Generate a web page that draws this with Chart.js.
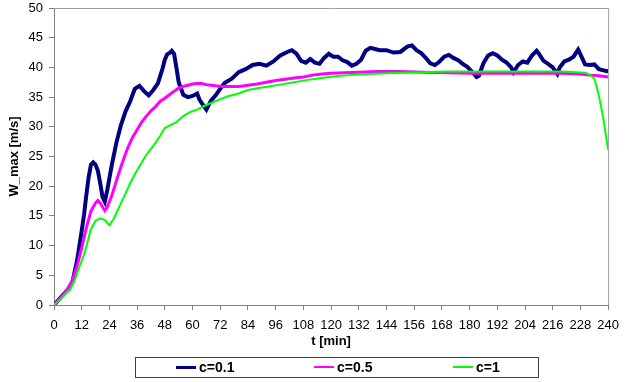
<!DOCTYPE html>
<html>
<head>
<meta charset="utf-8">
<script src="https://cdn.jsdelivr.net/npm/chart.js@4"></script>
<style>
  body { margin: 0; background: #fff; }
  #wrap { position: relative; width: 627px; height: 382px; }
  #legend { position: absolute; left: 135px; top: 357px; width: 402px; height: 19px;
            border: 1px solid #404040; font: bold 14px "Liberation Sans", Arial, sans-serif; }
  .item { position: absolute; top: 1px; line-height: 17px; white-space: nowrap; }
  .swatch { display: inline-block; width: 20px; vertical-align: middle; margin-right: 3px; margin-top: -2px; }
</style>
</head>
<body>
<div id="wrap">
  <canvas id="chart" width="627" height="382"></canvas>
  <div id="legend"></div>
</div>
<script>
// c = 0.1
const tBlue = [0,3,6,8,10,12,13,14,15,16,17,18,19,20,21,22,23,25,27,29,31,33,35,37,39,41,43,45,47,48,49,50,51,52,53,54,56,58,60,62,63,64,66,68,70,72,74,77,80,83,86,89,92,95,98,101,103,105,107,109,111,113,115,117,119,121,123,125,127,129,131,133,135,137,139,141,144,147,150,153,155,157,159,161,163,165,167,169,171,173,175,177,179,181,183,184,186,188,190,192,194,196,198,199,201,203,205,207,209,210,212,214,216,218,219,221,223,225,227,228,230,232,234,236,238,240];
const wBlue = [0,1.3,2.6,3.9,7.5,12.5,15.2,18.5,21.5,23.6,24,23.6,22.6,20.5,18.2,17.4,19.2,23.5,27.3,30.3,32.6,34.3,36.4,36.9,36,35.3,36.2,37.3,39.8,41.3,42.2,42.4,42.8,42.3,40,37.5,35.4,35,35.2,35.6,34.6,34,32.9,34.4,35.3,36.4,37.4,38.1,39.2,39.7,40.4,40.6,40.3,41,42,42.6,42.9,42.3,41.1,40.8,41.4,40.8,40.6,41.6,42.3,41.8,41.8,41.2,40.9,40.3,40.6,41.3,42.8,43.3,43.1,42.9,42.9,42.5,42.6,43.5,43.7,42.9,42.4,41.6,40.7,40.4,41,41.8,42.1,41.6,41.2,40.6,40.1,39.3,38.4,38.6,40.7,42,42.4,42,41.3,40.8,40,39.2,40.4,41,40.8,42,42.8,42.3,41.1,40.6,40,38.9,40,41,41.3,41.8,43,42.2,40.5,40.4,40.5,39.7,39.5,39.3];

// c = 0.5
const tMagenta = [0,3,6,8,10,12,14,16,18,19,20,21,22,23,25,28,30,32,34,36,38,40,42,44,46,48,50,52,54,56,58,60,62,64,66,68,70,73,76,80,84,88,92,96,100,104,108,112,116,120,126,132,140,150,160,170,180,190,200,210,220,228,232,236,240];
const wMagenta = [0,1.2,2.7,4.2,6.6,9.6,13,15.8,17.2,17.6,17.2,16.5,15.9,16.4,18.4,22.1,24.4,26.5,28.2,29.5,30.8,31.8,32.7,33.4,34.3,34.8,35.4,36,36.5,36.8,37,37.2,37.3,37.3,37.1,37,36.9,36.8,36.8,36.8,37,37.2,37.5,37.8,38,38.2,38.4,38.7,38.9,39,39.1,39.2,39.3,39.3,39.2,39.1,39,39,39,39,39,38.9,38.7,38.6,38.4];

// c = 1
const tGreen = [0,3,5,7,9,11,13,14,16,18,20,22,24,26,28,31,33,35,38,40,43,46,48,50,53,56,59,62,65,68,71,75,80,84,88,93,98,104,110,116,122,128,136,144,152,160,170,180,190,200,210,220,226,230,232,234,235,236,237,238,239,240];
const wGreen = [0,1.1,1.9,2.6,4.2,6.4,8.5,9.8,12.8,14.2,14.6,14.3,13.4,14.6,16.3,18.8,20.5,22,24,25.3,26.8,28.5,29.8,30.2,30.8,31.8,32.5,32.9,33.5,34,34.5,35.1,35.6,36.2,36.5,36.8,37.1,37.5,37.9,38.2,38.5,38.7,38.9,39,39.1,39.2,39.3,39.3,39.3,39.3,39.3,39.3,39.2,39.1,38.8,38.1,36.8,35.2,33.3,31.2,28.6,26.1];

const seriesNames = ['c=0.1', 'c=0.5', 'c=1'];
const seriesColors = ['#000080', '#ff00ff', '#00ff00'];

function pts(t, w) {
    return t.map((x, i) => ({ x: x, y: w[i] }));
}

const font = '"Liberation Sans", Arial, sans-serif';

// plot area frame (top and right edges)
const frame = {
    id: 'frame',
    beforeDatasetsDraw(chart) {
        const a = chart.chartArea;
        const ctx = chart.ctx;
        ctx.save();
        ctx.strokeStyle = '#a0a0a0';
        ctx.lineWidth = 1;
        ctx.beginPath();
        ctx.moveTo(a.left, a.top + 0.5);
        ctx.lineTo(a.right + 0.5, a.top + 0.5);
        ctx.lineTo(a.right + 0.5, a.bottom);
        ctx.stroke();
        ctx.restore();
    }
};

const chart = new Chart(document.getElementById('chart'), {
    type: 'line',
    data: {
        datasets: [{
            label: seriesNames[0],
            data: pts(tBlue, wBlue),
            borderColor: seriesColors[0],
            borderWidth: 4,
            order: 2
        }, {
            label: seriesNames[1],
            data: pts(tMagenta, wMagenta),
            borderColor: seriesColors[1],
            borderWidth: 3,
            order: 1
        }, {
            label: seriesNames[2],
            data: pts(tGreen, wGreen),
            borderColor: seriesColors[2],
            borderWidth: 2,
            order: 0
        }]
    },
    options: {
        responsive: false,
        animation: false,
        events: [],
        elements: { point: { radius: 0 }, line: { tension: 0 } },
        layout: { padding: { left: 0, right: 12, top: 8, bottom: 32 } },
        plugins: { legend: { display: false }, tooltip: { enabled: false } },
        scales: {
            x: {
                type: 'linear',
                min: 0, max: 240,
                afterFit: s => { s.height = 45; },
                ticks: { stepSize: 12, autoSkip: false, maxRotation: 0, padding: 8, color: '#000', font: { family: font, size: 13 } },
                grid: { drawOnChartArea: false, tickLength: 5, color: '#808080' },
                border: { color: '#808080' },
                title: { display: true, text: 't [min]', color: '#000', font: { family: font, size: 13, weight: 'bold' }, padding: { top: 0, bottom: 1 } }
            },
            y: {
                min: 0, max: 50,
                afterFit: s => { s.width = 54; s.paddingTop = 0; s.paddingBottom = 0; },
                ticks: { stepSize: 5, padding: 6, color: '#000', font: { family: font, size: 13 } },
                grid: { drawOnChartArea: false, tickLength: 5, color: '#808080' },
                border: { color: '#808080' },
                title: { display: true, text: 'W_max [m/s]', color: '#000', font: { family: font, size: 13, weight: 'bold' }, padding: { top: 7, bottom: 0 } }
            }
        }
    },
    plugins: [frame]
});

// legend box below the chart, built from the same series
const legend = document.getElementById('legend');
const itemLeft = [40, 178, 317];
const swatchHeight = [3, 2, 2];
seriesNames.forEach((name, i) => {
    const item = document.createElement('span');
    item.className = 'item';
    item.style.left = itemLeft[i] + 'px';
    const sw = document.createElement('span');
    sw.className = 'swatch';
    sw.style.height = swatchHeight[i] + 'px';
    sw.style.background = seriesColors[i];
    item.appendChild(sw);
    item.appendChild(document.createTextNode(name));
    legend.appendChild(item);
});
</script>
</body>
</html>
